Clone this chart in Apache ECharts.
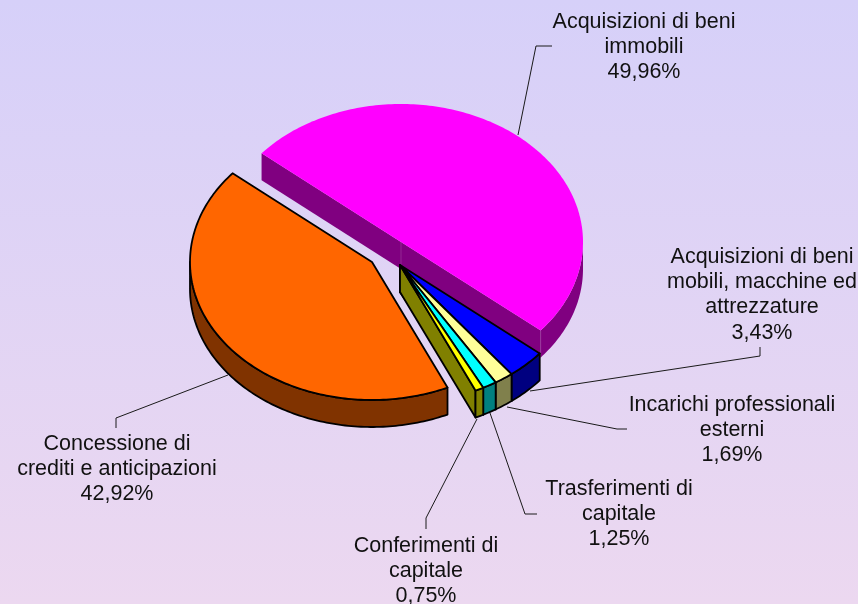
<!DOCTYPE html>
<html>
<head>
<meta charset="utf-8">
<style>
  html, body { margin: 0; padding: 0; }
  #chart { width: 858px; height: 604px; }
</style>
<script src="https://cdn.jsdelivr.net/npm/echarts@6/dist/echarts.min.js"></script>
</head>
<body>
<div id="chart"></div>
<script>
const categories = [
  'Acquisizioni di beni immobili',
  'Acquisizioni di beni mobili, macchine ed attrezzature',
  'Incarichi professionali esterni',
  'Trasferimenti di capitale',
  'Conferimenti di capitale',
  'Concessione di crediti e anticipazioni'
]
const shares = [49.96, 3.43, 1.69, 1.25, 0.75, 42.92]
const percentLabels = ['49,96%', '3,43%', '1,69%', '1,25%', '0,75%', '42,92%']
const labelLines = [
  ['Acquisizioni di beni', 'immobili'],
  ['Acquisizioni di beni', 'mobili, macchine ed', 'attrezzature'],
  ['Incarichi professionali', 'esterni'],
  ['Trasferimenti di', 'capitale'],
  ['Conferimenti di', 'capitale'],
  ['Concessione di', 'crediti e anticipazioni']
]
const topColors = ['#ff00ff', '#0000ff', '#ffff99', '#00ffff', '#ffff00', '#ff6600']
const wallColors = ['#800080', '#000080', '#80804c', '#008080', '#808000', '#803300']

// tilted pie geometry
const CX = 400
const CY = 265
const RX = 182
const RY = 138
const DEPTH = 27
const START_ANGLE = 220
const explode = [[1, -23], [0, 0], [0, 0], [0, 0], [0, 0], [-28, -3]]

const labelPos = [
  { x: 644, y: 22 },
  { x: 762, y: 257 },
  { x: 732, y: 405 },
  { x: 619, y: 489 },
  { x: 426, y: 546 },
  { x: 117, y: 444 }
]
const leaders = [
  [[518, 135], [536, 46], [552, 46]],
  [[530, 391], [760, 356], [760, 347]],
  [[507, 407], [617, 429], [627, 429]],
  [[490, 413], [525, 514], [537, 514]],
  [[477, 419], [426, 518], [426, 529]],
  [[228, 375], [116, 418], [116, 428]]
]

const rad = (d) => (d * Math.PI) / 180

function renderSlice(params, api) {
  const i = params.dataIndex
  const total = shares.reduce((a, b) => a + b, 0)
  const before = shares.slice(0, i).reduce((a, b) => a + b, 0)
  const a0 = START_ANGLE + (before / total) * 360
  const a1 = a0 + (api.value(1) / total) * 360
  const cx = CX + explode[i][0]
  const cy = CY + explode[i][1]
  const pt = (a, dy = 0) => [cx + RX * Math.cos(rad(a)), cy + RY * Math.sin(rad(a)) + dy]
  const outlined = i !== 0
  const stroke = outlined ? '#000' : null
  const children = []

  const wall = (points) => ({
    type: 'polygon',
    shape: { points },
    style: { fill: wallColors[i], stroke, lineWidth: 1.8, lineJoin: 'round' }
  })

  // flat cut walls, only the ones facing the viewer
  if (Math.sin(rad(a0 - 90)) > 0) {
    const e = pt(a0)
    children.push(wall([[cx, cy], e, [e[0], e[1] + DEPTH], [cx, cy + DEPTH]]))
  }
  if (Math.sin(rad(a1 + 90)) > 0) {
    const e = pt(a1)
    children.push(wall([[cx, cy], e, [e[0], e[1] + DEPTH], [cx, cy + DEPTH]]))
  }

  // outer rim, front half only (angles run 360..540 there)
  const lo = Math.max(a0, 360)
  const hi = Math.min(a1, 540)
  if (lo < hi) {
    const rimTop = []
    const rimBottom = []
    for (let a = lo; a < hi; a += 1) {
      rimTop.push(pt(a))
      rimBottom.unshift(pt(a, DEPTH))
    }
    rimTop.push(pt(hi))
    rimBottom.unshift(pt(hi, DEPTH))
    children.push(wall(rimTop.concat(rimBottom)))
  }

  // top face
  const top = [[cx, cy]]
  for (let a = a0; a < a1; a += 1) top.push(pt(a))
  top.push(pt(a1))
  children.push({
    type: 'polygon',
    shape: { points: top },
    style: { fill: topColors[i], stroke, lineWidth: 1.8, lineJoin: 'round' }
  })

  // pale seams on the unoutlined slice wall
  if (!outlined) {
    ;[[cx, cy], pt(a1)].forEach((p) => {
      children.push({
        type: 'line',
        shape: { x1: p[0], y1: p[1], x2: p[0], y2: p[1] + DEPTH },
        style: { stroke: '#a040a0', lineWidth: 0.6 }
      })
    })
  }
  return { type: 'group', children }
}

const leaderGraphics = leaders.map((points) => ({
  type: 'polyline',
  shape: { points },
  style: { stroke: '#1a1a1a', lineWidth: 1, fill: null }
}))

const textGraphics = labelLines.flatMap((lines, i) =>
  lines.concat(percentLabels[i]).map((text, n) => ({
    type: 'text',
    x: labelPos[i].x,
    y: labelPos[i].y + n * 25.2,
    style: {
      text,
      fill: '#111',
      font: '21.5px "Liberation Sans", Arial, sans-serif',
      align: 'center',
      verticalAlign: 'middle'
    }
  }))
)

const chart = echarts.init(document.getElementById('chart'))
chart.setOption({
  animation: false,
  backgroundColor: new echarts.graphic.LinearGradient(0, 0, 0, 1, [
    { offset: 0, color: '#d6d0f9' },
    { offset: 1, color: '#ecd8f0' }
  ]),
  graphic: { elements: leaderGraphics.concat(textGraphics) },
  series: [
    {
      type: 'custom',
      coordinateSystem: 'none',
      renderItem: renderSlice,
      data: shares.map((v, i) => ({ name: categories[i], value: [i, v] }))
    }
  ]
})
</script>
</body>
</html>
